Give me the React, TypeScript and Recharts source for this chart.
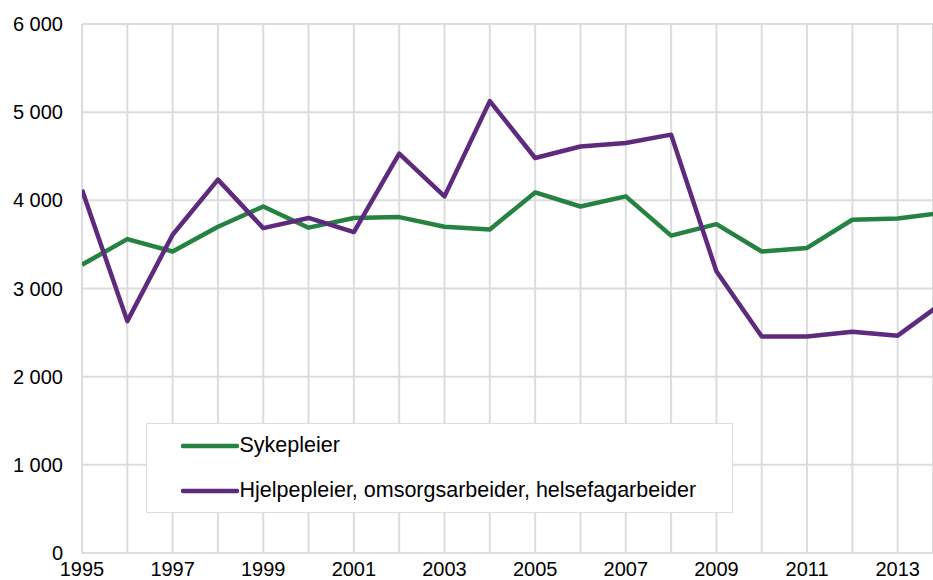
import { LineChart, Line, XAxis, YAxis, CartesianGrid } from "recharts";

const years = [
  1995, 1996, 1997, 1998, 1999, 2000, 2001, 2002, 2003, 2004, 2005, 2006, 2007,
  2008, 2009, 2010, 2011, 2012, 2013, 2014,
];

const sykepleier = [
  3270, 3560, 3420, 3700, 3930, 3690, 3800, 3810, 3700, 3670, 4090, 3930, 4045,
  3600, 3730, 3420, 3460, 3780, 3795, 3860,
];

const hjelpepleier = [
  4120, 2630, 3610, 4235, 3685, 3800, 3640, 4530, 4045, 5125, 4480, 4610, 4650,
  4745, 3195, 2455, 2455, 2510, 2465, 2840,
];

const yTicks = [0, 1000, 2000, 3000, 4000, 5000, 6000];
const xTicks = years.slice(0, 19);

const data = years.map((year, i) => ({
  year,
  sykepleier: sykepleier[i],
  hjelpepleier: hjelpepleier[i],
}));

const GREEN = "#258241";
const PURPLE = "#5e2a7e";
const GRID = "#dcdcdc";
const FONT = '"Liberation Sans", Arial, sans-serif';

const series = [
  { key: "sykepleier", name: "Sykepleier", color: GREEN },
  {
    key: "hjelpepleier",
    name: "Hjelpepleier, omsorgsarbeider, helsefagarbeider",
    color: PURPLE,
  },
];

function fmtThousands(v: number) {
  return String(v).replace(/\B(?=(\d{3})+(?!\d))/g, " ");
}

function LegendBox() {
  return (
    <div
      style={{
        position: "absolute",
        left: 145.5,
        top: 422.5,
        width: 585,
        height: 88,
        border: `1.5px solid ${GRID}`,
        background: "#fff",
        fontFamily: FONT,
        fontSize: 21.5,
        color: "#000",
      }}
    >
      {series.map((s, i) => (
        <div
          key={s.key}
          style={{
            position: "absolute",
            left: 34,
            top: 22 + i * 45 - 12,
            height: 24,
            display: "flex",
            alignItems: "center",
            whiteSpace: "nowrap",
          }}
        >
          <svg width={58} height={8} style={{ marginRight: 1 }}>
            <line
              x1={2}
              y1={4}
              x2={56}
              y2={4}
              stroke={s.color}
              strokeWidth={4.5}
              strokeLinecap="round"
            />
          </svg>
          <span>{s.name}</span>
        </div>
      ))}
    </div>
  );
}

export default function App() {
  return (
    <div
      style={{
        position: "absolute",
        left: 0,
        top: 0,
        width: 933,
        height: 580,
        overflow: "hidden",
        background: "#fff",
      }}
    >
      <LineChart
        width={933}
        height={580}
        data={data}
        margin={{ top: 24, right: 0, bottom: 0, left: 0 }}
        style={{ fontFamily: FONT }}
      >
        <CartesianGrid stroke={GRID} strokeWidth={2} />
        <XAxis
          dataKey="year"
          type="number"
          domain={[1995, 2013.78]}
          allowDataOverflow
          ticks={xTicks}
          interval={0}
          tickFormatter={(v: number) => (v % 2 === 1 ? String(v) : "")}
          height={27}
          tickLine={false}
          tickSize={0}
          tickMargin={9}
          axisLine={{ stroke: GRID, strokeWidth: 2 }}
          tick={{ fill: "#000", fontSize: 20 }}
        />
        <YAxis
          domain={[0, 6000]}
          ticks={yTicks}
          interval={0}
          width={82}
          tickFormatter={fmtThousands}
          axisLine={false}
          tickLine={false}
          tickSize={0}
          tickMargin={19}
          tick={{ fill: "#000", fontSize: 20 }}
        />
        {series.map((s) => (
          <Line
            key={s.key}
            type="linear"
            dataKey={s.key}
            name={s.name}
            stroke={s.color}
            strokeWidth={4.5}
            strokeLinejoin="round"
            dot={false}
            activeDot={false}
            isAnimationActive={false}
          />
        ))}
      </LineChart>
      <LegendBox />
    </div>
  );
}
